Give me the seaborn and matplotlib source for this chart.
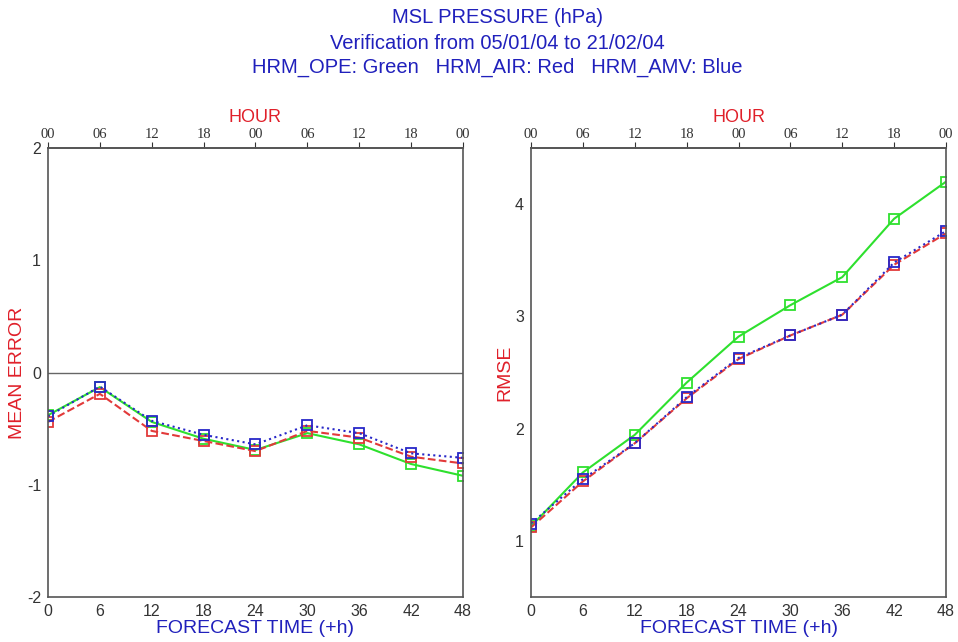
import pandas as pd
import matplotlib
matplotlib.use('Agg')
import matplotlib.pyplot as plt
import seaborn as sns

# Forecast lead times (hours)
lead = [0, 6, 12, 18, 24, 30, 36, 42, 48]
hour_labels = ['00', '06', '12', '18', '00', '06', '12', '18', '00']

# Mean error (hPa)
me_ope = [-0.38, -0.13, -0.44, -0.59, -0.69, -0.54, -0.64, -0.815, -0.92]
me_air = [-0.44, -0.19, -0.52, -0.61, -0.70, -0.52, -0.58, -0.75, -0.81]
me_amv = [-0.39, -0.125, -0.43, -0.555, -0.64, -0.47, -0.54, -0.72, -0.76]

# RMSE (hPa)
rmse_ope = [1.13, 1.61, 1.945, 2.41, 2.82, 3.10, 3.35, 3.87, 4.20]
rmse_air = [1.12, 1.53, 1.87, 2.27, 2.62, 2.83, 3.015, 3.46, 3.74]
rmse_amv = [1.155, 1.55, 1.87, 2.28, 2.63, 2.83, 3.015, 3.48, 3.76]

runs = ['HRM_OPE', 'HRM_AIR', 'HRM_AMV']
colors = {'HRM_OPE': '#2ee02e', 'HRM_AIR': '#e23a3a', 'HRM_AMV': '#2828c8'}
styles = {'HRM_OPE': '-', 'HRM_AIR': '--', 'HRM_AMV': ':'}

def to_long(series):
    rows = []
    for run, vals in zip(runs, series):
        for t, v in zip(lead, vals):
            rows.append({'lead': t, 'value': v, 'run': run})
    return pd.DataFrame(rows)

me_df = to_long([me_ope, me_air, me_amv])
rmse_df = to_long([rmse_ope, rmse_air, rmse_amv])

sns.set_theme(style='white')
plt.rcParams['font.family'] = ['Liberation Sans', 'DejaVu Sans']

fig = plt.figure(figsize=(9.58, 6.42), dpi=100)
ax1 = fig.add_axes([0.0501, 0.070, 0.4332, 0.6995])
ax2 = fig.add_axes([0.5543, 0.070, 0.4332, 0.6995])

blue_txt = '#2020bc'
red_txt = '#e0202a'
spine_col = '#555555'

for ax, df, ylim, yticks, ylabel, lab_x in [
    (ax1, me_df, (-2, 2), [-2, -1, 0, 1, 2], 'MEAN ERROR', -0.052),
    (ax2, rmse_df, (0.5, 4.5), [1, 2, 3, 4], 'RMSE', -0.043),
]:
    if ax is ax1:
        ax.axhline(0, color='#666666', lw=1, zorder=1)
    for run in runs:
        sub = df[df['run'] == run]
        sns.lineplot(data=sub, x='lead', y='value', ax=ax, color=colors[run],
                     linestyle=styles[run], lw=1.5, marker='s', markersize=7.5,
                     mfc='none', mec=colors[run], mew=1.3, legend=False)
    ax.set_xlim(0, 48)
    ax.set_ylim(*ylim)
    ax.set_xticks(lead)
    ax.set_yticks(yticks)
    ax.tick_params(axis='both', direction='out', length=4, width=0.8,
                   colors='#333333', labelsize=11.5, pad=1)
    for s in ax.spines.values():
        s.set_color(spine_col)
        s.set_linewidth(1.2)
    ax.set_xlabel('FORECAST TIME (+h)', color=blue_txt, fontsize=14, labelpad=1)
    ax.set_ylabel(ylabel, color=red_txt, fontsize=14)
    ax.yaxis.set_label_coords(lab_x, 0.5)

    top = ax.secondary_xaxis('top')
    top.set_xticks(lead)
    top.set_xticklabels(hour_labels, family=['Liberation Serif', 'DejaVu Serif'])
    top.tick_params(direction='out', length=4, width=0.8, colors='#333333',
                    labelsize=10.5, pad=1)
    top.spines['top'].set_color(spine_col)
    top.set_xlabel('HOUR', color=red_txt, fontsize=13, labelpad=4)

ax1.set_yticklabels(['-2', '-1', '0', '1', '2'])

fig.text(0.519, 0.972, 'MSL PRESSURE (hPa)', ha='center', va='center',
         color=blue_txt, fontsize=14.5)
fig.text(0.519, 0.932, 'Verification from 05/01/04 to 21/02/04', ha='center',
         va='center', color=blue_txt, fontsize=14.5)
fig.text(0.519, 0.895, 'HRM_OPE: Green   HRM_AIR: Red   HRM_AMV: Blue',
         ha='center', va='center', color=blue_txt, fontsize=14.5)

fig.savefig('out.png', dpi=100)
